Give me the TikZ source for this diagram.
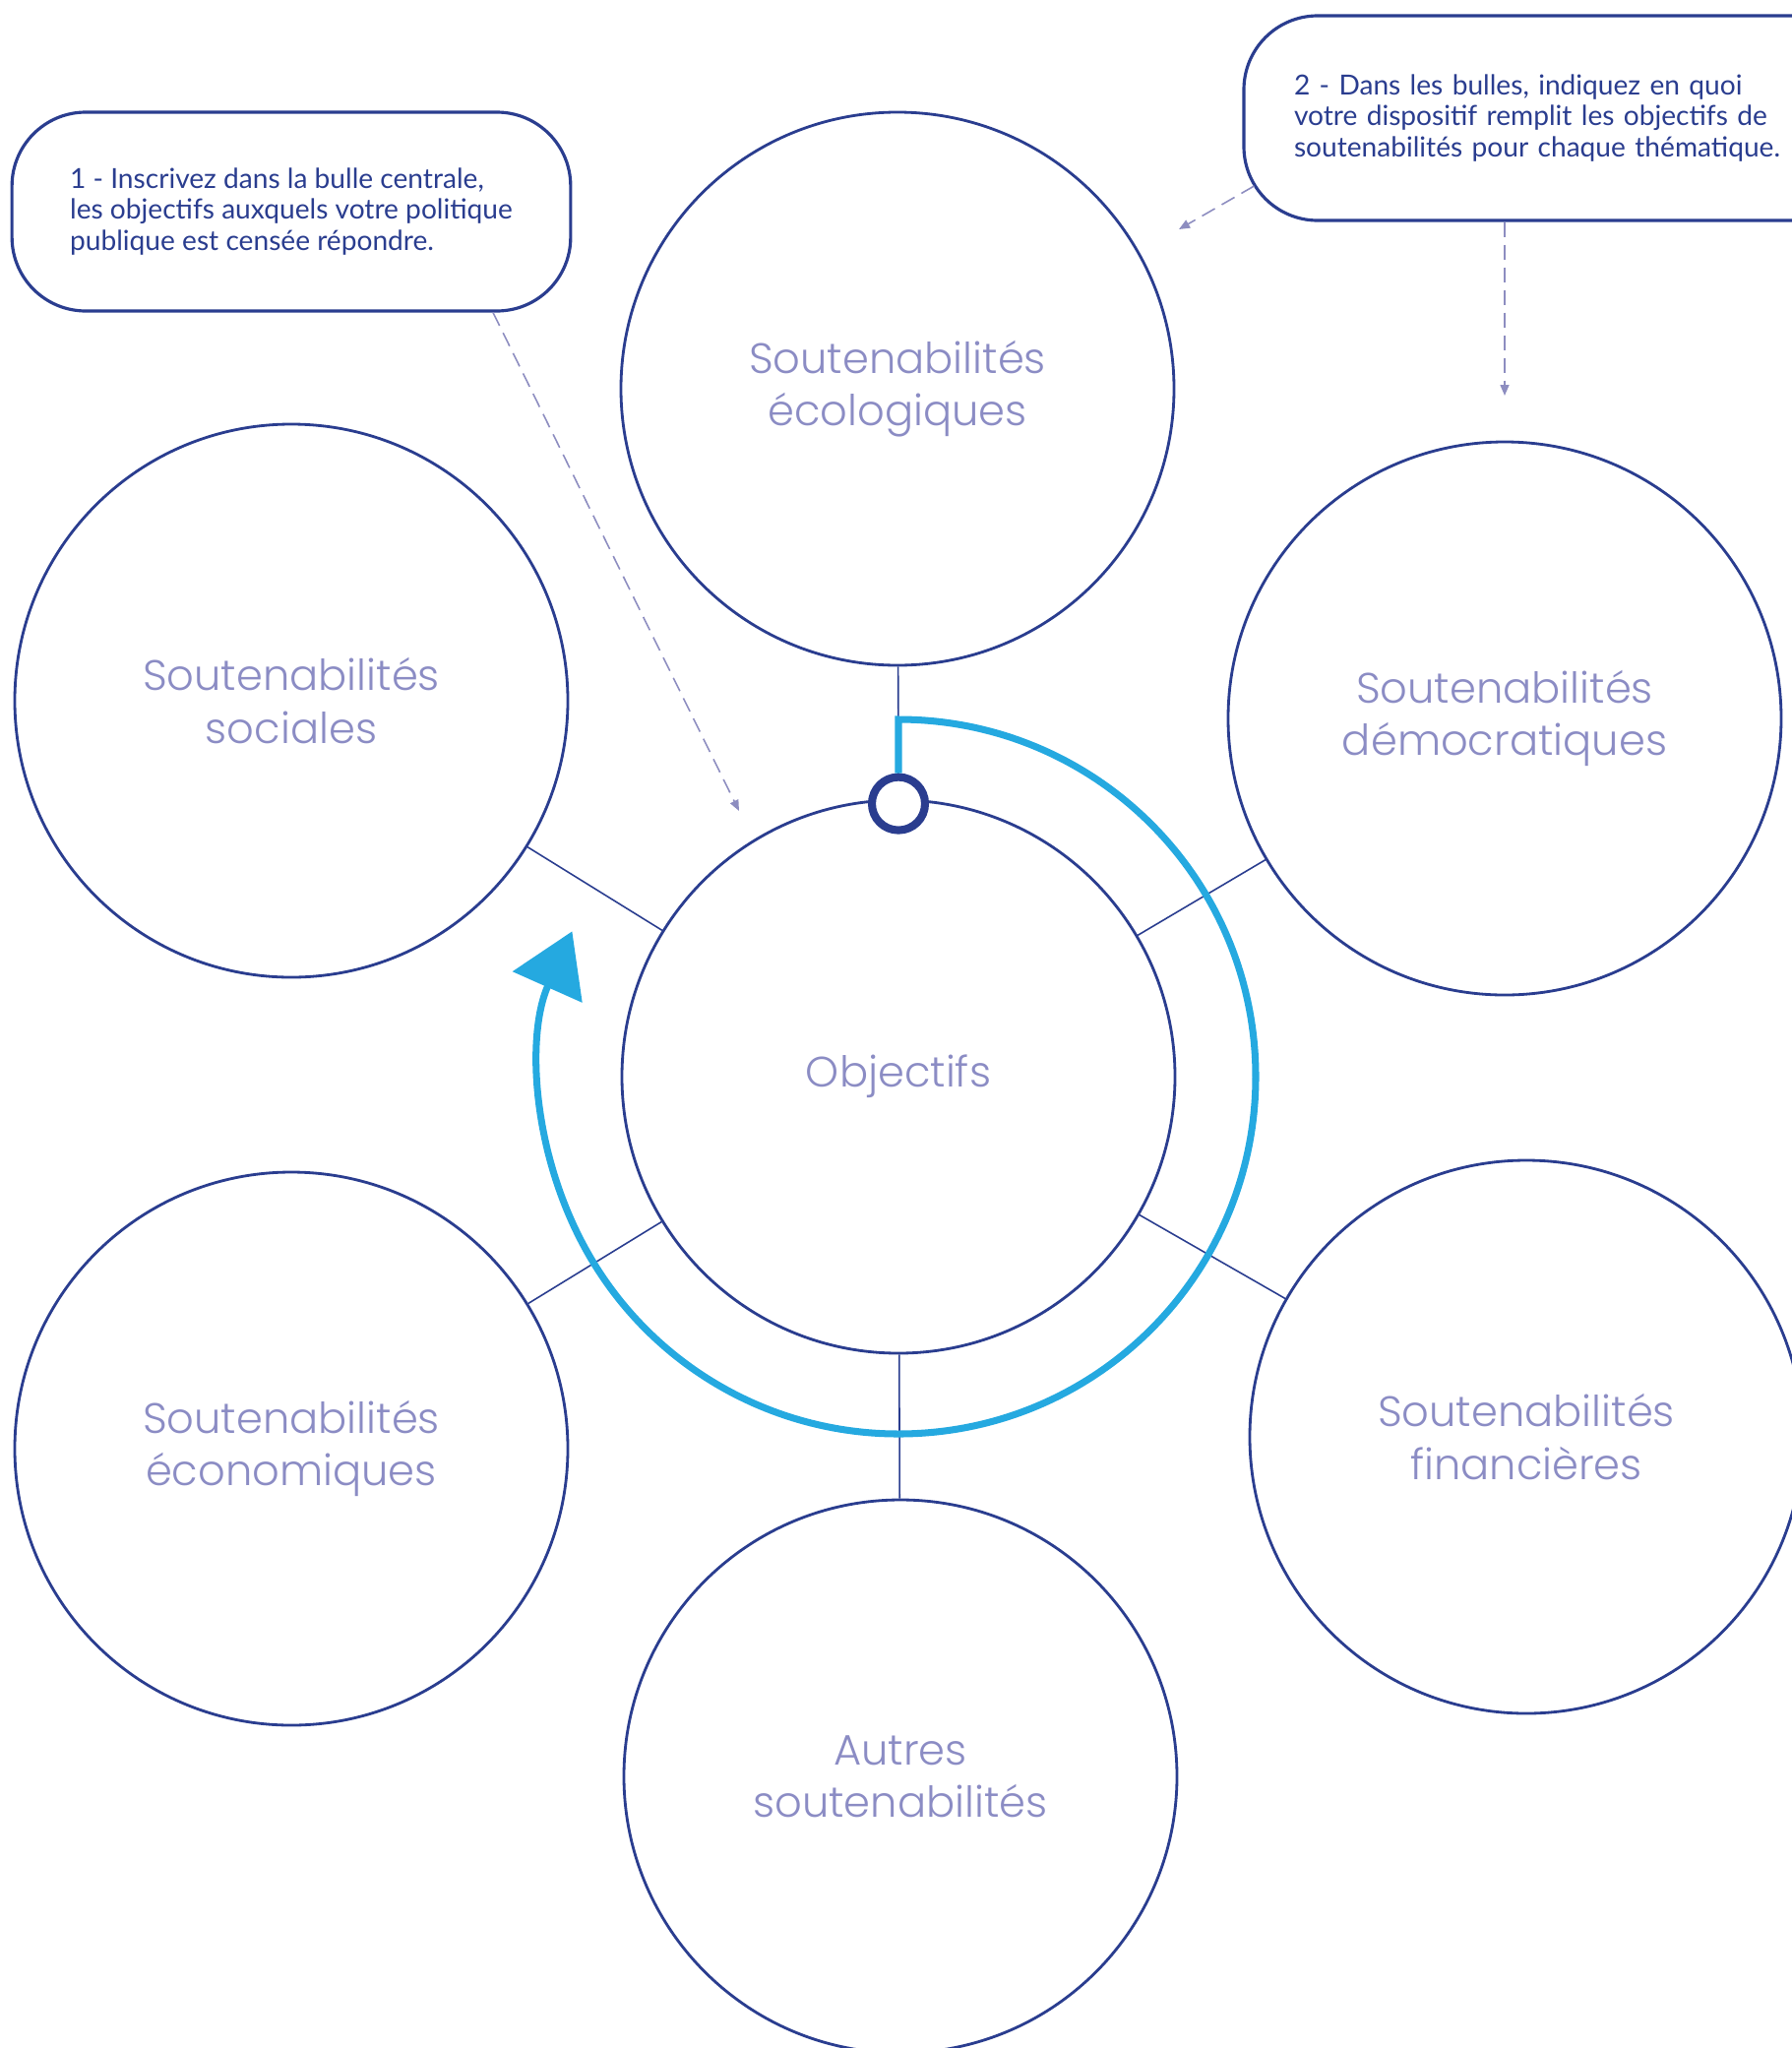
\documentclass[tikz,border=0pt]{standalone}
\usepackage{fontspec}
\setmainfont{Poppins Light}
\newfontfamily\notefont{Lato}
\usepackage{xcolor}
\usetikzlibrary{arrows.meta}

\definecolor{bleu}{HTML}{2A3D8F}
\definecolor{lavande}{HTML}{8B8CC4}
\definecolor{ciel}{HTML}{25A9E0}
\definecolor{pointille}{HTML}{8D8DC0}

\tikzset{
        bulle/.style={circle, draw=bleu, line width=0.8pt, minimum size=5.62cm, inner sep=0pt,
                align=center, text=lavande, font=\fontsize{12.3}{15.1}\selectfont},
        note/.style={rectangle, rounded corners=0.75cm, draw=bleu, line width=0.9pt, align=left,
                text=bleu, font=\notefont\fontsize{8}{9}\selectfont},
        lien/.style={draw=bleu, line width=0.45pt},
        indice/.style={draw=pointille, line width=0.45pt, dash pattern=on 0.15cm off 0.08cm,
                -{Triangle[length=0.11cm,width=0.09cm]}},
        tour/.style={draw=ciel, line width=2pt, line join=miter,
                -{Triangle[length=0.62cm,width=0.76cm]}}
}

\begin{document}
\begin{tikzpicture}
        \useasboundingbox (0,0) rectangle (18.2,-20.81);
        \node[bulle](obj) at (9.13,-10.94) {Objectifs};
        \node[bulle](eco) at (9.12,-3.95) {Soutenabilités\\écologiques};
        \node[bulle](soc) at (2.96,-7.12) {Soutenabilités\\sociales};
        \node[bulle](dem) at (15.29,-7.30) {Soutenabilités\\démocratiques};
        \node[bulle](econ) at (2.96,-14.72) {Soutenabilités\\économiques};
        \node[bulle](fin) at (15.51,-14.60) {Soutenabilités\\financières};
        \node[bulle](aut) at (9.15,-18.05) {Autres\\soutenabilités};
        \node[note, minimum height=2.02cm, inner xsep=0.59cm](n1) at (2.96,-2.15)
                {1 - Inscrivez dans la bulle centrale,\\les objectifs auxquels votre politique\\publique est censée répondre.};
        \node[note, minimum width=6.4cm, minimum height=2.08cm, text width=5.38cm, inner xsep=0.51cm](n2) at (15.84,-1.20)
                {2 - Dans les bulles, indiquez en quoi\\votre dispositif remplit les objectifs de\\soutenabilités pour chaque thématique.};
        \coordinate(t1) at (7.51,-8.24);
        \coordinate(t2) at (11.98,-2.33);
        \coordinate(t3) at (15.29,-4.02);
        \coordinate(haut) at (9.13,-7.31);
        \draw[lien](obj)--(soc);
        \draw[lien](obj)--(dem);
        \draw[lien](obj)--(econ);
        \draw[lien](obj)--(fin);
        \draw[lien](obj)--(aut);
        \draw[lien](eco)--(obj.north);
        \draw[indice]([xshift=2.05cm]n1.south)--(t1);
        \draw[indice]([shift={(0.12,-0.69)}]n2.west)--(t2);
        \draw[indice](n2.south -| t3)--(t3);
        \node[circle, draw=bleu, line width=2.3pt, fill=white, minimum size=0.54cm, inner sep=0pt](dot) at ([yshift=-0.05cm]obj.north) {};
        \draw[tour](dot.north)--(haut) arc[start angle=90, end angle=-204, radius=3.63];
\end{tikzpicture}
\end{document}
